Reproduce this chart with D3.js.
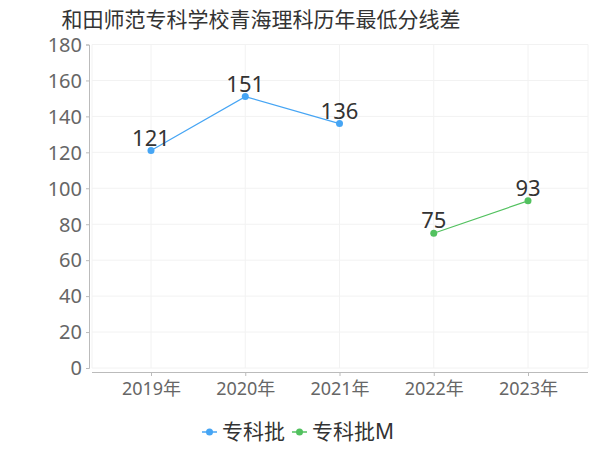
<!DOCTYPE html>
<html><head><meta charset="utf-8">
<script src="https://cdn.jsdelivr.net/npm/d3@7"></script>
<style>body{margin:0;background:#fff}svg{display:block}</style>
</head><body><svg id="c" width="600" height="450"></svg>
<script>
const title = "和田师范专科学校青海理科历年最低分线差";
const categories = ["2019年","2020年","2021年","2022年","2023年"];
const seriesNames = ["专科批","专科批M"];
const seriesA = [121,151,136,null,null];
const seriesB = [null,null,null,75,93];
const yTicks = [0,20,40,60,80,100,120,140,160,180];
const colors = ["#46a5f4","#52c15f"];

const svg = d3.select("#c");
const font = "'Noto Sans','Noto Sans CJK SC',sans-serif";
const x = d3.scalePoint().domain(categories).range([151,528]);
const y = d3.scaleLinear().domain([0,180]).range([368,44.5]);
const plotL = 92, plotR = 588;

// grid
const g = svg.append("g");
g.selectAll("line.h").data(yTicks).join("line")
  .attr("x1",plotL).attr("x2",plotR).attr("y1",d=>y(d)).attr("y2",d=>y(d))
  .attr("stroke","#f2f2f2").attr("stroke-width",1);
g.selectAll("line.v").data([plotL, ...categories.map(c=>x(c)), plotR]).join("line")
  .attr("x1",d=>d).attr("x2",d=>d).attr("y1",y(180)).attr("y2",y(0))
  .attr("stroke","#f2f2f2").attr("stroke-width",1);

// y axis
const ya = svg.append("g").attr("transform","translate(89,0)")
  .call(d3.axisLeft(y).tickValues(yTicks).tickSize(3).tickPadding(4));
ya.select(".domain").attr("stroke","#bbb");
ya.selectAll(".tick line").attr("stroke","#bbb");
ya.selectAll(".tick text").attr("fill","#666").style("font-family",font).style("font-size","20px").attr("dy","0.34em");

// x axis
const xa = svg.append("g").attr("transform","translate(0,372)")
  .call(d3.axisBottom(x).tickSize(4).tickPadding(6));
xa.select(".domain").attr("d",`M${plotL},0.5H${plotR}`).attr("stroke","#bbb");
xa.selectAll(".tick line").attr("stroke","#bbb");
xa.selectAll(".tick text").attr("fill","#666").style("font-family",font).style("font-size","18px");

// series
[seriesA, seriesB].forEach((s,i)=>{
  const pts = categories.map((c,j)=>({c,v:s[j]})).filter(d=>d.v!=null);
  svg.append("path").datum(pts)
    .attr("d",d3.line().x(d=>x(d.c)).y(d=>y(d.v)))
    .attr("fill","none").attr("stroke",colors[i]).attr("stroke-width",1.2);
  svg.selectAll(null).data(pts).join("circle")
    .attr("cx",d=>x(d.c)).attr("cy",d=>y(d.v)).attr("r",3.5).attr("fill",colors[i]);
  svg.selectAll(null).data(pts).join("text")
    .attr("x",d=>x(d.c)).attr("y",d=>y(d.v)-5).attr("text-anchor","middle")
    .attr("fill","#333").style("font-family",font).style("font-size","22px")
    .text(d=>d.v);
});

// title
svg.append("text").attr("x",261).attr("y",27).attr("text-anchor","middle")
  .attr("fill","#333").style("font-family","'Noto Sans CJK SC',sans-serif").style("font-size","21px").text(title);

// legend
const leg = [{x:202,tx:222},{x:292,tx:312}];
seriesNames.forEach((n,i)=>{
  const L = leg[i];
  svg.append("line").attr("x1",L.x).attr("x2",L.x+15).attr("y1",432).attr("y2",432)
    .attr("stroke",colors[i]).attr("stroke-width",1.5);
  svg.append("circle").attr("cx",L.x+7.5).attr("cy",432).attr("r",3.5).attr("fill",colors[i]);
  svg.append("text").attr("x",L.tx).attr("y",432).attr("dy","0.35em")
    .attr("fill","#333").style("font-family",font).style("font-size","21px").text(n);
});
</script></body></html>
